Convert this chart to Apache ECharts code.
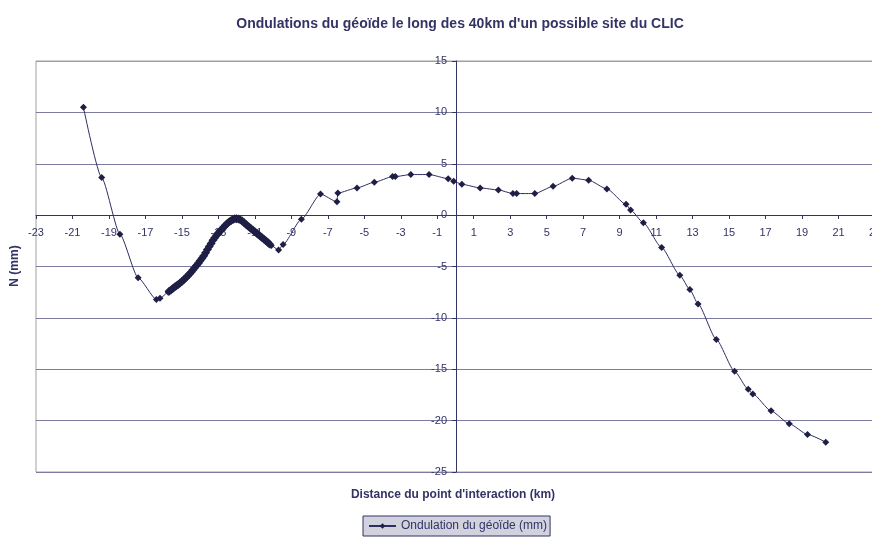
<!DOCTYPE html>
<html>
<head>
<meta charset="UTF-8">
<title>Ondulations du géoïde</title>
<script src="https://cdn.jsdelivr.net/npm/echarts@6/dist/echarts.min.js"></script>
<style>
    body { margin: 0; background: #fff; }
    #main { width: 872px; height: 538px; }
</style>
</head>
<body>
<div id="main"></div>
<script>
    // distance du point d'interaction (km)
    var xKm = [
        -20.4, -19.4, -18.4, -17.4, -16.4, -16.2, -15.75,
        -15.7, -15.6, -15.5, -15.4, -15.3, -15.2, -15.1, -15.0, -14.9, -14.8,
        -14.7, -14.6, -14.5, -14.4, -14.3, -14.2, -14.1, -14.0, -13.9, -13.8,
        -13.7, -13.6, -13.5, -13.4, -13.3, -13.2, -13.1, -13.0, -12.9, -12.8,
        -12.7, -12.6, -12.5, -12.4, -12.3, -12.2, -12.1, -12.0, -11.9, -11.8,
        -11.7, -11.6, -11.5, -11.4, -11.3, -11.2, -11.1, -11.0, -10.9, -10.8,
        -10.7, -10.6, -10.5, -10.4, -10.3, -10.2, -10.1,
        -9.7, -9.45, -8.45, -7.4, -6.5, -6.45, -5.4, -4.45, -3.45, -3.3,
        -2.45, -1.45, -0.4, -0.1, 0.35, 1.35, 2.35, 3.15, 3.35, 4.35,
        5.35, 6.4, 7.3, 8.3, 9.35, 9.6, 10.3, 11.3, 12.3, 12.85,
        13.3, 14.3, 15.3, 16.05, 16.3, 17.3, 18.3, 19.3, 20.3
    ];
    // ondulation du géoïde (mm)
    var nMm = [
        10.5, 3.65, -1.85, -6.1, -8.2, -8.1, -7.5,
        -7.4, -7.28, -7.15, -7.0, -6.88, -6.75, -6.6, -6.45, -6.3, -6.12,
        -5.95, -5.75, -5.55, -5.35, -5.12, -4.9, -4.68, -4.45, -4.2, -3.95,
        -3.65, -3.35, -3.05, -2.75, -2.45, -2.2, -1.95, -1.75, -1.55, -1.35,
        -1.15, -0.95, -0.8, -0.65, -0.52, -0.42, -0.36, -0.35, -0.38, -0.45,
        -0.58, -0.72, -0.88, -1.03, -1.18, -1.33, -1.48, -1.62, -1.76, -1.9,
        -2.05, -2.2, -2.35, -2.5, -2.65, -2.8, -2.95,
        -3.4, -2.85, -0.4, 2.05, 1.3, 2.15, 2.65, 3.2, 3.75, 3.75,
        3.95, 3.95, 3.55, 3.3, 3.0, 2.65, 2.45, 2.1, 2.1, 2.1,
        2.8, 3.6, 3.4, 2.55, 1.05, 0.5, -0.75, -3.15, -5.85, -7.25,
        -8.65, -12.1, -15.2, -16.95, -17.4, -19.05, -20.3, -21.35, -22.1
    ];

    var navy = '#333366';
    var font = 'Liberation Sans, Arial, sans-serif';
    var points = [];
    for (var i = 0; i < xKm.length; i++) {
        points.push([xKm[i], nMm[i]]);
    }

    // les points serrés (levé dense) se fondent en un trait épais
    function markerSize(value, params) {
        var k = params.dataIndex;
        var prev = k > 0 ? xKm[k] - xKm[k - 1] : 1;
        var next = k < xKm.length - 1 ? xKm[k + 1] - xKm[k] : 1;
        return (prev < 0.15 && next < 0.15) ? 9 : 7;
    }

    var myChart = echarts.init(document.getElementById('main'));
    myChart.setOption({
        backgroundColor: '#ffffff',
        animation: false,
        textStyle: { fontFamily: font },
        title: {
            text: "Ondulations du géoïde le long des 40km d'un possible site du CLIC",
            left: 455,
            top: 12,
            textAlign: 'center',
            textStyle: { fontSize: 14, fontWeight: 'bold', color: navy, fontFamily: font }
        },
        grid: {
            left: 36, top: 61, width: 839, height: 411,
            outerBoundsMode: 'none',
            show: true, borderColor: '#a0a0a0', borderWidth: 1
        },
        legend: {
            data: ['Ondulation du géoïde (mm)'],
            left: 363, top: 516,
            padding: [4, 3, 4, 5],
            itemWidth: 27, itemHeight: 7, itemGap: 3,
            backgroundColor: '#d2d2de',
            borderColor: navy, borderWidth: 1,
            textStyle: { fontSize: 12, color: navy, fontFamily: font }
        },
        xAxis: {
            type: 'value',
            position: 'bottom',
            offset: -257,
            min: -23, max: 23, interval: 2,
            axisLine: { onZero: false, lineStyle: { color: navy, width: 1 } },
            axisTick: { show: true, length: 4, lineStyle: { color: navy } },
            axisLabel: { fontSize: 11, color: navy, margin: 12, fontFamily: font },
            splitLine: { show: false }
        },
        yAxis: {
            type: 'value',
            position: 'left',
            offset: -420,
            min: -25, max: 15, interval: 5,
            axisLine: { onZero: false, lineStyle: { color: navy, width: 1 } },
            axisTick: { show: true, length: 4, lineStyle: { color: navy } },
            axisLabel: { fontSize: 11, color: navy, margin: 9, fontFamily: font },
            splitLine: {
                show: true,
                lineStyle: {
                    color: ['#7c7ca2', '#7c7ca2', '#7c7ca2', '#7c7ca2', '#7c7ca2', '#7c7ca2', '#7c7ca2', '#7c7ca2', '#a0a0a0'],
                    width: 1
                }
            }
        },
        graphic: [
            {
                type: 'text', x: 15, y: 266, rotation: Math.PI / 2,
                style: { text: 'N (mm)', fill: navy, font: 'bold 12px ' + font, align: 'center', verticalAlign: 'middle' }
            },
            {
                type: 'text', x: 453, y: 495,
                style: { text: "Distance du point d'interaction (km)", fill: navy, font: 'bold 12px ' + font, align: 'center', verticalAlign: 'middle' }
            }
        ],
        series: [{
            name: 'Ondulation du géoïde (mm)',
            type: 'line',
            data: points,
            smooth: 0.2,
            smoothMonotone: 'x',
            symbol: 'diamond',
            symbolSize: markerSize,
            showAllSymbol: true,
            lineStyle: { color: '#2e2e62', width: 1 },
            itemStyle: { color: '#1f1f45' }
        }]
    });
</script>
</body>
</html>
